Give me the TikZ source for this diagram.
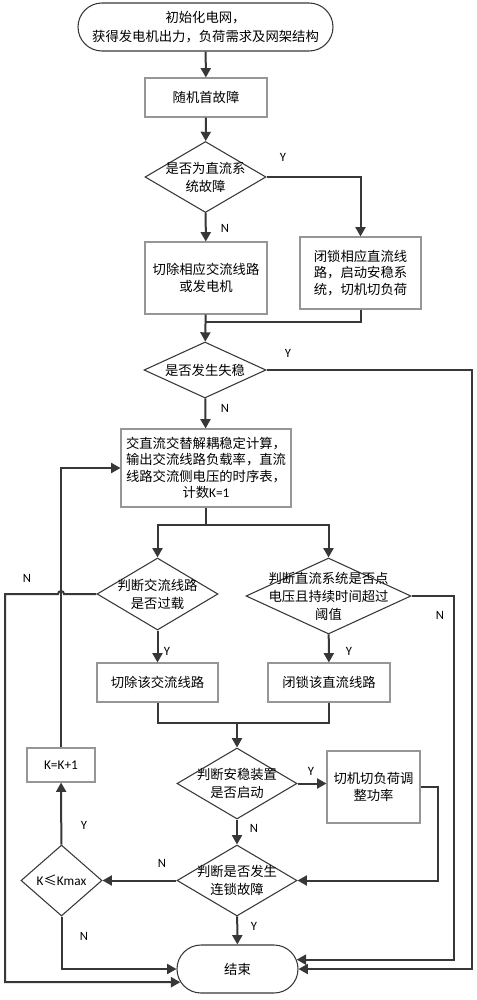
\documentclass[tikz,border=0pt]{standalone}
\usepackage{fontspec}
\setmainfont{Carlito}
\newfontfamily\cjk{Noto Sans CJK SC}
\usetikzlibrary{shapes.geometric,shapes.misc,arrows.meta}
\definecolor{linegray}{RGB}{55,55,55}
\definecolor{boxgray}{RGB}{150,150,150}
\tikzset{
	proc/.style={draw=boxgray, line width=0.8pt, align=center, inner sep=0pt, font=\cjk\fontsize{10pt}{12.4pt}\selectfont},
	term/.style={rounded rectangle, draw=linegray, line width=0.8pt, align=center, inner sep=0pt, font=\cjk\fontsize{10pt}{14.5pt}\selectfont},
	dec/.style={diamond, draw=linegray, line width=0.8pt, inner sep=0pt},
	dtxt/.style={align=center, inner sep=0pt, font=\cjk\fontsize{10pt}{13.5pt}\selectfont},
	flow/.style={draw=linegray, line width=1.5pt},
	arr/.style={flow, -{Triangle[width=7.5pt,length=7pt]}},
	yn/.style={inner sep=0pt, font=\fontsize{9.5pt}{11pt}\selectfont}
}
\begin{document}
\begin{tikzpicture}[x=0.75pt,y=0.75pt,yscale=-1]
	\useasboundingbox (0,0) rectangle (477,1000);
	
	% Terminal Nodes
	\node[term, minimum width=191.25pt, minimum height=36pt] (start) at (205.5,27) {初始化电网，\\获得发电机出力，负荷需求及网架结构};
	\node[term, minimum width=90.75pt, minimum height=36pt] (fin) at (237.5,969) {结束};
	
	% Process Nodes
	\node[proc, minimum width=91.5pt, minimum height=29.25pt] (rnd) at (206,97.5) {随机首故障};
	\node[proc, minimum width=91.5pt, minimum height=54pt] (cutac) at (206,278) {切除相应交流线路\\或发电机};
	\node[proc, minimum width=90.75pt, minimum height=54pt] (lockdc) at (360.5,273) {闭锁相应直流线\\路，启动安稳系\\统，切机切负荷};
	\node[proc, minimum width=127.5pt, minimum height=58.5pt] (calc) at (206,468) {交直流交替解耦稳定计算，\\输出交流线路负载率，直流\\线路交流侧电压的时序表，\\计数{\rmfamily K=1}};
	\node[proc, minimum width=90.75pt, minimum height=29.25pt] (cutl) at (157.5,682.5) {切除该交流线路};
	\node[proc, minimum width=91.5pt, minimum height=29.25pt] (lockl) at (329,682.5) {闭锁该直流线路};
	\node[proc, minimum width=69.75pt, minimum height=54pt] (shed) at (373.5,787) {切机切负荷调\\整功率};
	\node[proc, minimum width=51pt, minimum height=25.5pt, font=\fontsize{10pt}{12pt}\selectfont] (kinc) at (61,765) {K=K+1};
	
	% Decision Nodes
	\node[dec, minimum width=90.75pt, minimum height=53.25pt, label={[dtxt]center:是否为直流系\\统故障}] (isdc) at (205.5,177) {};
	\node[dec, minimum width=91.5pt, minimum height=42pt, label={[dtxt]center:是否发生失稳}] (unstab) at (205,370) {};
	\node[dec, minimum width=90.75pt, minimum height=54pt, label={[dtxt]center:判断交流线路\\是否过载}] (ovl) at (157.5,594) {};
	\node[dec, minimum width=123.75pt, minimum height=57pt, label={[dtxt]center:判断直流系统是否点\\电压且持续时间超过\\阈值}] (dcv) at (328.5,596) {};
	\node[dec, minimum width=90pt, minimum height=53.25pt, label={[dtxt]center:判断安稳装置\\是否启动}] (sec) at (237,783.5) {};
	\node[dec, minimum width=90pt, minimum height=53.25pt, label={[dtxt]center:判断是否发生\\连锁故障}] (casc) at (237,880.5) {};
	\node[dec, minimum width=60.75pt, minimum height=53.25pt, label={[dtxt, font=\fontsize{10pt}{12pt}\selectfont]center:K{\cjk ≤}Kmax}] (kmax) at (61.5,880.5) {};
	
	% Junctions
	\coordinate (m1) at (206,322);
	\coordinate (s1) at (206,525);
	\coordinate (m2) at (237,723);
	
	% Connectors
	\draw[arr] (start) -- (rnd);
	\draw[arr] (rnd) -- (isdc);
	\draw[arr] (isdc) -- (cutac);
	\draw[arr] (isdc.east) -| (lockdc.north);
	\draw[flow] (lockdc.south) |- (m1);
	\draw[arr] (cutac) -- (unstab);
	\draw[arr] (unstab) -- (calc);
	\draw[arr] (unstab.east) -- (472,370) |- (fin.east);
	\draw[flow] (calc.south) -- (s1);
	\draw[arr] (s1) -| (ovl.north);
	\draw[arr] (s1) -| (dcv.north);
	\draw[arr] (ovl) -- (cutl);
	\draw[arr] (dcv) -- (lockl);
	\draw[flow] (cutl.south) |- (m2);
	\draw[flow] (lockl.south) |- (m2);
	\draw[arr] (m2) -- (sec.north);
	\draw[arr] (sec.east) -- (sec.east -| shed.west);
	\draw[arr] (shed.east) -- ++(17,0) |- (casc.east);
	\draw[arr] (sec) -- (casc);
	\draw[arr] (casc) -- (fin);
	\draw[arr] (casc) -- (kmax);
	\draw[arr] (kmax) -- (kinc);
	\draw[arr] (kinc.north) |- (calc.west);
	\draw[arr] (kmax.south) |- (fin.west);
	\draw[arr] (ovl.west) -- (64,594) arc[start angle=0, end angle=-180, radius=3] -- (5,594) |- (fin.193);
	\draw[arr] (dcv.east) -- (454,596) |- (fin.9);
	
	% Y/N Labels
	\node[yn] (y1) at (283,157) {Y};
	\node[yn] (n1) at (225,228) {N};
	\node[yn] (y2) at (288,353) {Y};
	\node[yn] (n2) at (225,408) {N};
	\node[yn] (n3) at (27,578) {N};
	\node[yn] (n4) at (440,615) {N};
	\node[yn] (y3) at (167,651) {Y};
	\node[yn] (y4) at (349,651) {Y};
	\node[yn] (y5) at (311,771) {Y};
	\node[yn] (n5) at (254,828) {N};
	\node[yn] (n6) at (162,863) {N};
	\node[yn] (y6) at (84,825) {Y};
	\node[yn] (y7) at (254,926) {Y};
	\node[yn] (n7) at (84,936) {N};
\end{tikzpicture}
\end{document}
